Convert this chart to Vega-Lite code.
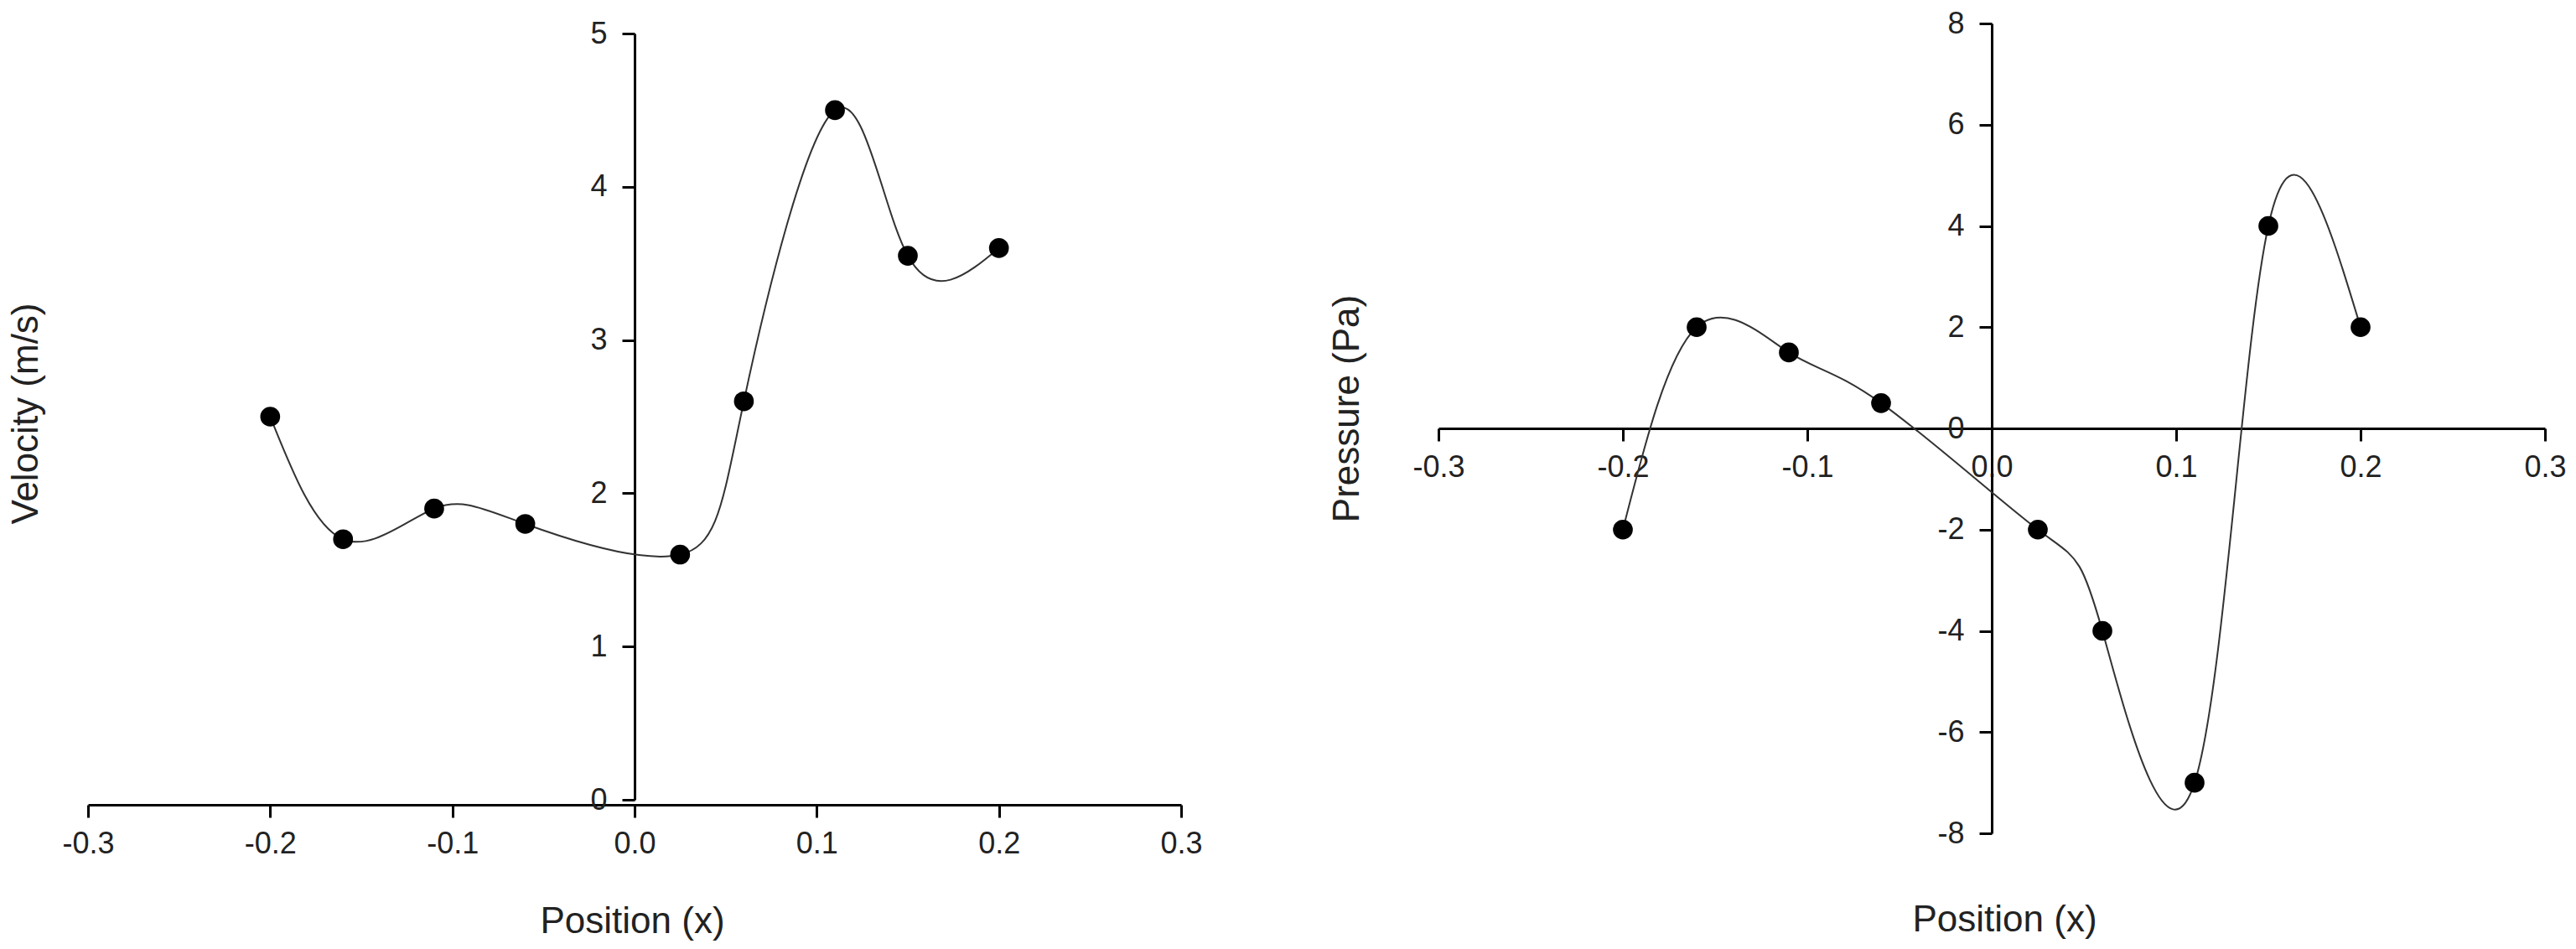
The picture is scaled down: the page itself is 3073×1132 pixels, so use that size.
{
  "$schema": "https://vega.github.io/schema/vega-lite/v6.json",
  "background": "white",
  "padding": {"left": 9, "top": 10, "right": 5, "bottom": 5},
  "config": {
    "view": {"stroke": null},
    "font": "Liberation Sans",
    "concat": {"spacing": 150},
    "axis": {
      "grid": false,
      "domainColor": "black",
      "domainWidth": 3,
      "tickColor": "black",
      "tickWidth": 3,
      "tickSize": 15,
      "labelFontSize": 36,
      "labelColor": "#222",
      "labelFlush": false,
      "labelOverlap": false,
      "titleFontSize": 44,
      "titleFontWeight": "normal",
      "titleColor": "#222"
    }
  },
  "datasets": {
    "velocity": [
      {"x": -0.2, "v": 2.5},
      {"x": -0.16, "v": 1.7},
      {"x": -0.11, "v": 1.9},
      {"x": -0.06, "v": 1.8},
      {"x": 0.025, "v": 1.6},
      {"x": 0.06, "v": 2.6},
      {"x": 0.11, "v": 4.5},
      {"x": 0.15, "v": 3.55},
      {"x": 0.2, "v": 3.6}
    ],
    "pressure": [
      {"x": -0.2, "p": -2},
      {"x": -0.16, "p": 2},
      {"x": -0.11, "p": 1.5},
      {"x": -0.06, "p": 0.5},
      {"x": 0.025, "p": -2},
      {"x": 0.06, "p": -4},
      {"x": 0.11, "p": -7},
      {"x": 0.15, "p": 4},
      {"x": 0.2, "p": 2}
    ]
  },
  "hconcat": [
    {
      "width": 1304,
      "height": 926,
      "data": {"name": "velocity"},
      "encoding": {
        "x": {
          "field": "x",
          "type": "quantitative",
          "scale": {"domain": [-0.3, 0.3], "nice": false, "zero": false},
          "axis": {
            "title": "Position (x)",
            "values": [-0.3, -0.2, -0.1, 0, 0.1, 0.2, 0.3],
            "labelExpr": "datum.value < 0 ? '-' + format(-datum.value, '.1f') : format(datum.value, '.1f')",
            "offset": 6,
            "labelPadding": 14,
            "titleX": 649,
            "titleY": 152,
            "titleBaseline": "alphabetic"
          }
        },
        "y": {
          "field": "v",
          "type": "quantitative",
          "scale": {"domain": [0, 5], "nice": false, "range": [926, 12]},
          "axis": {
            "title": "Velocity (m/s)",
            "values": [0, 1, 2, 3, 4, 5],
            "format": "d",
            "offset": -652,
            "labelPadding": 18,
            "titleX": -726,
            "titleY": 465,
            "titleAngle": -90,
            "titleAlign": "center",
            "titleBaseline": "middle"
          }
        }
      },
      "layer": [
        {"mark": {"type": "line", "interpolate": "natural", "color": "#333", "strokeWidth": 2}},
        {"mark": {"type": "point", "filled": true, "color": "black", "opacity": 1, "size": 560}}
      ]
    },
    {
      "width": 1320,
      "height": 966,
      "data": {"name": "pressure"},
      "encoding": {
        "x": {
          "field": "x",
          "type": "quantitative",
          "scale": {"domain": [-0.3, 0.3], "nice": false, "zero": false},
          "axis": {
            "title": "Position (x)",
            "values": [-0.3, -0.2, -0.1, 0, 0.1, 0.2, 0.3],
            "labelExpr": "datum.value < 0 ? '-' + format(-datum.value, '.1f') : format(datum.value, '.1f')",
            "offset": -483,
            "labelPadding": 14,
            "titleX": 675,
            "titleY": 599,
            "titleBaseline": "alphabetic"
          }
        },
        "y": {
          "field": "p",
          "type": "quantitative",
          "scale": {"domain": [-8, 8], "nice": false},
          "axis": {
            "title": "Pressure (Pa)",
            "values": [-8, -6, -4, -2, 0, 2, 4, 6, 8],
            "labelExpr": "datum.value < 0 ? '-' + format(-datum.value, 'd') : format(datum.value, 'd')",
            "offset": -660,
            "labelPadding": 18,
            "titleX": -769,
            "titleY": 459,
            "titleAngle": -90,
            "titleAlign": "center",
            "titleBaseline": "middle"
          }
        }
      },
      "layer": [
        {"mark": {"type": "line", "interpolate": "natural", "color": "#333", "strokeWidth": 2}},
        {"mark": {"type": "point", "filled": true, "color": "black", "opacity": 1, "size": 560}}
      ]
    }
  ]
}
